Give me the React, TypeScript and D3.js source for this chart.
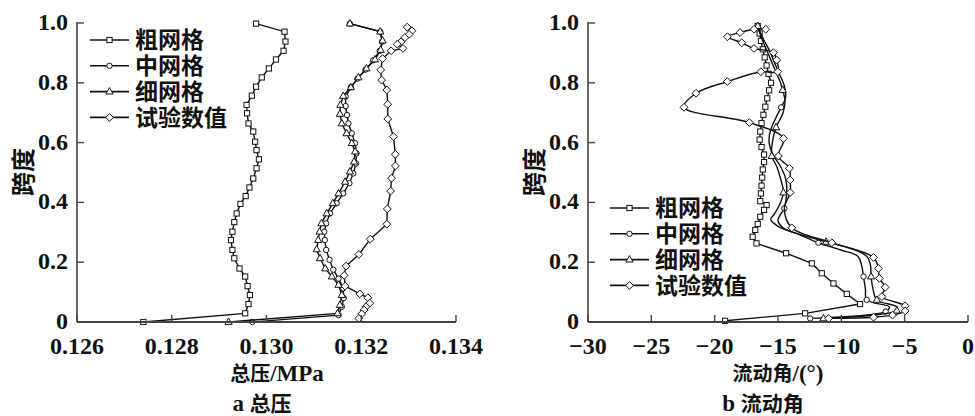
import React from 'react';
import * as d3 from 'd3';

type Pt = [number, number];

// ticks
const spanTicks = [0, 0.2, 0.4, 0.6, 0.8, 1.0];
const pressureTicks = [0.126, 0.128, 0.13, 0.132, 0.134];
const angleTicks = [-30, -25, -20, -15, -10, -5, 0];
const legendNames = ['粗网格', '中网格', '细网格', '试验数值'];

// a 总压: [total pressure MPa, span]
const coarseP: Pt[] = [[0.12978,0.998],[0.13038,0.971],[0.1304,0.938],[0.13036,0.907],[0.1302,0.878],[0.13005,0.848],[0.1299,0.818],[0.12978,0.787],[0.12969,0.757],[0.12958,0.726],[0.12959,0.698],[0.12962,0.664],[0.12972,0.637],[0.12976,0.603],[0.12979,0.575],[0.12984,0.544],[0.12979,0.514],[0.12972,0.48],[0.12964,0.45],[0.12956,0.421],[0.12945,0.395],[0.12937,0.363],[0.12932,0.334],[0.12928,0.302],[0.12925,0.274],[0.12928,0.241],[0.12932,0.213],[0.12943,0.179],[0.12955,0.152],[0.1296,0.12],[0.12965,0.09],[0.12962,0.06],[0.12955,0.029],[0.1274,0.0]];
const mediumP: Pt[] = [[0.13176,0.998],[0.1324,0.971],[0.13244,0.938],[0.13239,0.907],[0.13225,0.875],[0.13209,0.844],[0.13192,0.814],[0.13178,0.785],[0.13167,0.754],[0.13167,0.722],[0.1317,0.692],[0.13173,0.664],[0.1318,0.631],[0.13187,0.598],[0.1319,0.564],[0.13189,0.53],[0.13183,0.497],[0.13175,0.464],[0.13162,0.43],[0.13148,0.397],[0.13134,0.363],[0.13126,0.33],[0.13122,0.302],[0.13123,0.274],[0.13126,0.241],[0.13133,0.208],[0.13141,0.175],[0.13152,0.145],[0.13162,0.113],[0.13163,0.08],[0.13159,0.051],[0.13152,0.023],[0.1297,0.0]];
const fineP: Pt[] = [[0.13176,0.998],[0.1324,0.971],[0.13245,0.941],[0.13241,0.91],[0.13229,0.878],[0.13211,0.848],[0.13194,0.818],[0.13178,0.785],[0.13162,0.756],[0.13156,0.726],[0.13155,0.696],[0.13159,0.664],[0.13169,0.631],[0.1318,0.598],[0.13187,0.57],[0.13185,0.536],[0.13176,0.503],[0.13166,0.469],[0.13152,0.43],[0.1314,0.397],[0.13127,0.363],[0.13116,0.33],[0.13112,0.302],[0.13109,0.274],[0.13106,0.243],[0.13113,0.213],[0.13124,0.179],[0.13138,0.152],[0.13152,0.124],[0.13159,0.09],[0.13155,0.057],[0.1315,0.029],[0.1292,0.0]];
const testP: Pt[] = [[0.13297,0.986],[0.13307,0.974],[0.13301,0.962],[0.13292,0.951],[0.13284,0.937],[0.13276,0.929],[0.13288,0.915],[0.13263,0.907],[0.13245,0.881],[0.13241,0.843],[0.13243,0.809],[0.13254,0.776],[0.13256,0.728],[0.13256,0.679],[0.13268,0.62],[0.13272,0.561],[0.13272,0.522],[0.13264,0.481],[0.13262,0.438],[0.13255,0.378],[0.13254,0.327],[0.13219,0.277],[0.13195,0.226],[0.13168,0.187],[0.13164,0.156],[0.13166,0.12],[0.13197,0.094],[0.13214,0.081],[0.13218,0.063],[0.1321,0.051],[0.13206,0.04],[0.13201,0.027],[0.13195,0.012]];

// b 流动角: [flow angle deg, span]
const coarseA: Pt[] = [[-16.6,0.99],[-16.45,0.965],[-16.35,0.94],[-16.2,0.912],[-16.05,0.885],[-15.9,0.858],[-15.75,0.83],[-15.55,0.8],[-15.7,0.775],[-15.85,0.748],[-16.0,0.72],[-16.15,0.693],[-16.3,0.665],[-16.4,0.637],[-16.45,0.61],[-16.3,0.585],[-16.1,0.56],[-16.1,0.535],[-16.2,0.51],[-16.25,0.483],[-16.3,0.456],[-16.35,0.43],[-16.4,0.404],[-15.9,0.391],[-16.1,0.375],[-16.4,0.352],[-16.6,0.328],[-16.8,0.308],[-17.0,0.285],[-16.7,0.263],[-14.36,0.23],[-12.33,0.196],[-11.54,0.163],[-10.62,0.129],[-9.57,0.094],[-8.52,0.06],[-12.86,0.029],[-19.18,0.004]];
const mediumA: Pt[] = [[-16.6,0.99],[-16.2,0.95],[-15.7,0.91],[-15.3,0.87],[-14.9,0.83],[-14.5,0.79],[-14.4,0.75],[-14.75,0.718],[-15.2,0.68],[-15.6,0.64],[-15.7,0.6],[-15.4,0.56],[-14.8,0.52],[-14.4,0.48],[-14.3,0.44],[-14.4,0.4],[-14.5,0.38],[-15.0,0.34],[-14.6,0.315],[-13.2,0.29],[-11.81,0.265],[-10.0,0.24],[-8.7,0.22],[-8.4,0.19],[-8.25,0.152],[-8.1,0.11],[-8.0,0.074],[-6.2,0.05],[-6.5,0.035],[-12.46,0.012]];
const mediumAMarks = [7, 16, 20, 24, 26, 28, 29];
const fineA: Pt[] = [[-16.6,0.99],[-16.3,0.95],[-15.9,0.91],[-15.5,0.87],[-15.1,0.83],[-14.8,0.8],[-14.63,0.776],[-14.45,0.74],[-14.6,0.7],[-15.15,0.651],[-15.45,0.6],[-15.49,0.555],[-15.1,0.52],[-14.8,0.48],[-14.57,0.433],[-14.8,0.4],[-15.3,0.36],[-15.57,0.343],[-15.0,0.32],[-13.8,0.3],[-11.2,0.268],[-9.2,0.245],[-8.0,0.22],[-7.7,0.19],[-7.65,0.152],[-7.5,0.11],[-7.2,0.074],[-5.6,0.05],[-5.62,0.038],[-7.0,0.025],[-11.41,0.012]];
const fineAMarks = [0, 6, 9, 11, 14, 20, 24, 26, 28, 30];
const testA: Pt[] = [[-15.97,0.979],[-16.89,0.979],[-17.99,0.968],[-19.0,0.954],[-17.86,0.934],[-16.89,0.915],[-15.36,0.901],[-15.1,0.876],[-15.02,0.837],[-16.36,0.837],[-19.0,0.804],[-21.47,0.765],[-22.42,0.718],[-17.26,0.667],[-14.57,0.614],[-14.97,0.555],[-14.1,0.514],[-14.04,0.475],[-14.04,0.433],[-14.5,0.38],[-13.91,0.315],[-10.75,0.265],[-7.46,0.216],[-7.07,0.179],[-7.0,0.146],[-6.54,0.116],[-6.8,0.085],[-4.96,0.054],[-4.96,0.037],[-5.96,0.023],[-7.46,0.016],[-11.0,0.012]];
const testAMarks = testA.map((_, i) => i).filter(i => i !== 19);

const shapes = ['square', 'circle', 'triangle', 'diamond'];
const FONT = "'Liberation Serif','Noto Sans CJK SC',serif";
const INK = '#111';

function Marker({ shape, x, y }: { shape: string; x: number; y: number }) {
  const p = { fill: '#fff', stroke: INK, strokeWidth: 1 };
  if (shape === 'square') return <rect x={x - 2.6} y={y - 2.6} width={5.2} height={5.2} {...p} />;
  if (shape === 'circle') return <circle cx={x} cy={y} r={2.7} {...p} />;
  if (shape === 'triangle') return <path d={`M${x},${y - 4}L${x + 3.6},${y + 2.4}L${x - 3.6},${y + 2.4}Z`} {...p} />;
  return <path d={`M${x},${y - 3.9}L${x + 3.9},${y}L${x},${y + 3.9}L${x - 3.9},${y}Z`} {...p} />;
}

type Series = { pts: Pt[]; shape: string; marks?: number[]; curve?: boolean };

function Panel({ x, y, xTicks, fmt, series, legendX, legendY, xTitle, caption, titleX }: any) {
  const left = x.range()[0];
  const right = x.range()[1];
  const bottom = y(0);
  const top = y(1);
  return (
    <g>
      {series.map((s: Series, k: number) => {
        const line = d3.line<Pt>().x(d => x(d[0])).y(d => y(d[1]))
          .curve(s.curve ? d3.curveCatmullRom.alpha(0.5) : d3.curveLinear);
        const idx = s.marks ?? s.pts.map((_, i) => i);
        return (
          <g key={k}>
            <path d={line(s.pts) || ''} fill="none" stroke={INK} strokeWidth={1.4} />
            {idx.map(i => <Marker key={i} shape={s.shape} x={x(s.pts[i][0])} y={y(s.pts[i][1])} />)}
          </g>
        );
      })}
      {/* axes */}
      <line x1={left} x2={left} y1={top - 1} y2={bottom} stroke="#444" strokeWidth={1.6} />
      <line x1={left} x2={right} y1={bottom} y2={bottom} stroke="#444" strokeWidth={2} />
      {spanTicks.map(t => (
        <g key={t}>
          <line x1={left} x2={left + 7} y1={y(t)} y2={y(t)} stroke="#444" strokeWidth={1.4} />
          <text x={left - 9} y={y(t) - 1} dy="0.33em" textAnchor="end" fontSize={24} fontWeight="bold" fill={INK}>
            {t === 0 ? '0' : t.toFixed(1)}
          </text>
        </g>
      ))}
      {xTicks.map((t: number) => (
        <g key={t}>
          <line x1={x(t)} x2={x(t)} y1={bottom} y2={bottom - 7} stroke="#444" strokeWidth={1.4} />
          <text x={x(t)} y={bottom + 32} textAnchor="middle" fontSize={24} fontWeight="bold" fill={INK}>
            {fmt(t)}
          </text>
        </g>
      ))}
      <text transform={`translate(${left - 53},172) rotate(-90)`} textAnchor="middle" dy="0.35em" fontSize={24} fontWeight="bold" fill={INK}>跨度</text>
      <text x={titleX} y={381} textAnchor="middle" fontWeight="bold" fill={INK}>
        <tspan fontSize={20}>{xTitle[0]}</tspan><tspan fontSize={23}>{xTitle[1]}</tspan>
      </text>
      <text x={titleX - 15} y={411} textAnchor="middle" fontWeight="bold" fill={INK}>
        <tspan fontSize={23}>{caption[0]} </tspan><tspan fontSize={21}>{caption[1]}</tspan>
      </text>
      {/* legend */}
      {legendNames.map((n, i) => {
        const ly = legendY + i * 25.8;
        return (
          <g key={n}>
            <line x1={legendX} x2={legendX + 39} y1={ly} y2={ly} stroke={INK} strokeWidth={1.6} />
            <Marker shape={shapes[i]} x={legendX + 19.5} y={ly} />
            <text x={legendX + 45} y={ly} dy="0.36em" fontSize={23} fontWeight={600} fill={INK}>{n}</text>
          </g>
        );
      })}
    </g>
  );
}

export default function App() {
  const yS = d3.scaleLinear().domain([0, 1]).range([322, 23]);
  const xP = d3.scaleLinear().domain([0.126, 0.134]).range([77, 456]);
  const xA = d3.scaleLinear().domain([-30, 0]).range([588, 968]);
  const fmtP = d3.format('.3f');
  const fmtA = (d: number) => (d === 0 ? '0' : '\u2212' + Math.abs(d));

  const seriesP: Series[] = [
    { pts: coarseP, shape: 'square' },
    { pts: mediumP, shape: 'circle' },
    { pts: fineP, shape: 'triangle' },
    { pts: testP, shape: 'diamond' },
  ];
  const seriesA: Series[] = [
    { pts: coarseA, shape: 'square' },
    { pts: mediumA, shape: 'circle', marks: mediumAMarks, curve: true },
    { pts: fineA, shape: 'triangle', marks: fineAMarks, curve: true },
    { pts: testA, shape: 'diamond', marks: testAMarks, curve: true },
  ];

  return (
    <svg width={975} height={416} style={{ position: 'absolute', left: 0, top: 0, background: '#fff' }} fontFamily={FONT}>
      <rect width={975} height={416} fill="#fff" />
      <Panel x={xP} y={yS} xTicks={pressureTicks} fmt={fmtP} series={seriesP}
        legendX={90} legendY={40} xTitle={['总压', '/MPa']} caption={['a', '总压']} titleX={277} />
      <Panel x={xA} y={yS} xTicks={angleTicks} fmt={fmtA} series={seriesA}
        legendX={610} legendY={208} xTitle={['流动角', '/(°)']} caption={['b', '流动角']} titleX={778} />
    </svg>
  );
}
